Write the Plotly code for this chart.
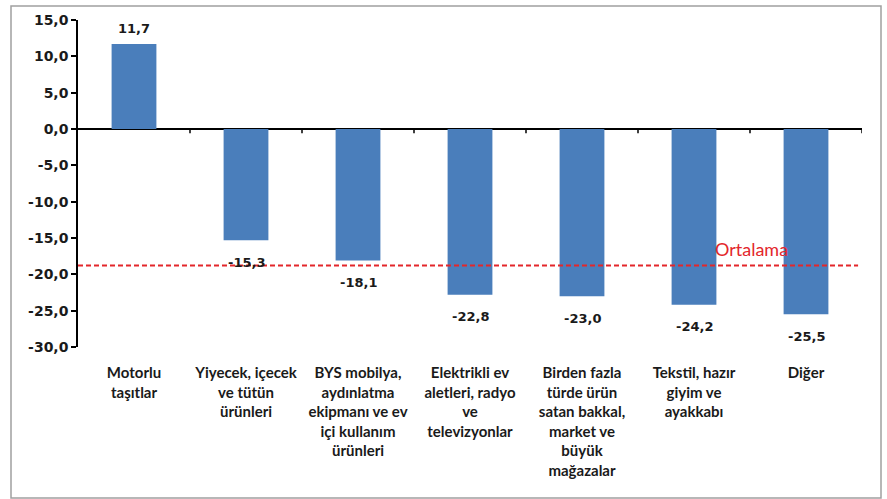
import plotly.graph_objects as go

categories = [
    "Motorlu<br>taşıtlar",
    "Yiyecek, içecek<br>ve tütün<br>ürünleri",
    "BYS mobilya,<br>aydınlatma<br>ekipmanı ve ev<br>içi kullanım<br>ürünleri",
    "Elektrikli ev<br>aletleri, radyo<br>ve<br>televizyonlar",
    "Birden fazla<br>türde ürün<br>satan bakkal,<br>market ve<br>büyük<br>mağazalar",
    "Tekstil, hazır<br>giyim ve<br>ayakkabı",
    "Diğer",
]
values = [11.7, -15.3, -18.1, -22.8, -23.0, -24.2, -25.5]
average = -18.8
average_label = "Ortalama"
y_ticks = [15, 10, 5, 0, -5, -10, -15, -20, -25, -30]

W, H = 887, 499
ML, MR, MT, MB = 78, 25, 20, 152
PW, PH = W - ML - MR, H - MT - MB

FONT = "Lato"
NUMFONT = "DejaVu Sans"
BAR = "#4A7EBB"
RED = "#E3262B"
TXT = "#1a1a1a"


def fmt(v):
    return f"{v:.1f}".replace(".", ",")


fig = go.Figure()
fig.add_trace(go.Bar(
    x=list(range(len(categories))), y=values,
    marker=dict(color=BAR, line=dict(width=0)),
    width=0.4, hoverinfo="skip",
))

annotations = []
for i, v in enumerate(values):
    annotations.append(dict(
        x=i, y=v, xref="x", yref="y", text=fmt(v), showarrow=False,
        yanchor="middle", yshift=15 if v >= 0 else -22,
        font=dict(family=NUMFONT, size=13, color=TXT, weight="bold"),
    ))
annotations.append(dict(
    x=5.51, y=average, xref="x", yref="y", text=average_label, showarrow=False,
    yanchor="middle", yshift=17,
    font=dict(family=FONT, size=18, color=RED),
))

shapes = [
    dict(type="line", xref="paper", yref="y", x0=0, x1=0.995, y0=average, y1=average,
         line=dict(color=RED, width=2, dash="5px,3px")),
]
for i in range(len(categories)):
    shapes.append(dict(type="line", xref="x", yref="y", x0=i + 0.5, x1=i + 0.5,
                       y0=0, y1=-0.6, line=dict(color="black", width=1.5)))
# outer frame
shapes.append(dict(type="rect", xref="paper", yref="paper",
                   x0=(11 - ML) / PW, x1=(881 - ML) / PW,
                   y0=(MT + PH - 498) / PH, y1=(MT + PH - 6) / PH,
                   line=dict(color="#A0A0A0", width=1.5)))

fig.update_layout(
    width=W, height=H,
    margin=dict(l=ML, r=MR, t=MT, b=MB),
    paper_bgcolor="white", plot_bgcolor="white",
    showlegend=False, bargap=0.6,
    annotations=annotations, shapes=shapes,
    font=dict(family=FONT, color=TXT),
)
fig.update_xaxes(
    range=[-0.5, len(categories) - 0.5],
    tickmode="array", tickvals=list(range(len(categories))), ticktext=categories,
    showline=False, showgrid=False, zeroline=False, ticks="",
    ticklabelstandoff=15,
    tickfont=dict(family=FONT, size=15, color=TXT, weight="bold"),
)
fig.update_yaxes(
    range=[-30, 15], tickmode="array", tickvals=y_ticks,
    ticktext=[fmt(t) for t in y_ticks],
    showline=True, linecolor="black", linewidth=1.5,
    ticks="outside", ticklen=5, tickcolor="black", tickwidth=1.5,
    showgrid=False, zeroline=True, zerolinecolor="black", zerolinewidth=1.5,
    tickfont=dict(family=NUMFONT, size=14, color=TXT, weight="bold"),
)
fig.write_html("out.html", config={"displayModeBar": False},
               post_script="document.body.style.margin='0px';")
